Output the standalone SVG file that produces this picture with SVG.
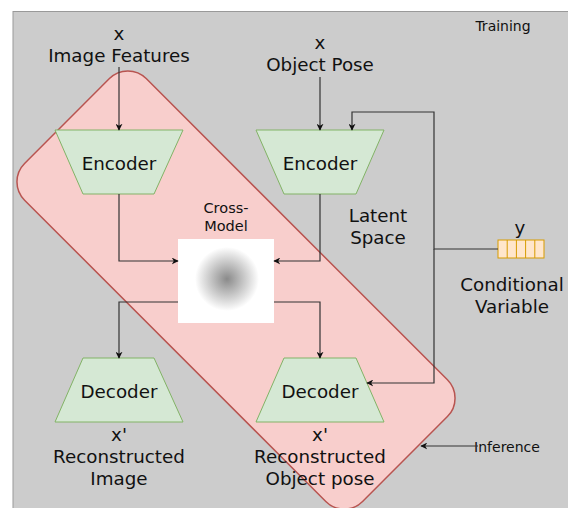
<svg xmlns="http://www.w3.org/2000/svg" width="568" height="508" viewBox="0 0 568 508">
<defs>
<style>
text{font-family:"DejaVu Sans","Liberation Sans",sans-serif;fill:#111;text-anchor:middle}
.l{font-size:18.3px}
.s{font-size:14px}
.m{font-size:14.5px}
.trap{fill:#d5e8d4;stroke:#82b366;stroke-width:1}
.c{fill:none;stroke:#333;stroke-width:1.2}
.a{marker-end:url(#arr)}
</style>
<marker id="arr" viewBox="0 0 10 10" refX="9" refY="5" markerWidth="7" markerHeight="7" markerUnits="userSpaceOnUse" orient="auto">
<path d="M0,0 L10,5 L0,10 L3,5 Z" fill="#111"/>
</marker>
<radialGradient id="rg" cx="0.5" cy="0.5" r="0.5">
<stop offset="0" stop-color="#8a8a8a"/>
<stop offset="1" stop-color="#ffffff"/>
</radialGradient>
</defs>
<rect x="0" y="0" width="568" height="508" fill="#fff"/>
<rect id="panel" x="13" y="11.5" width="560" height="500" fill="#cccccc" stroke="#999" stroke-width="1"/>
<g id="inference-region">
<rect x="-239" y="-86" width="478" height="172" rx="26" transform="translate(236,290) rotate(45)" fill="#f8cecc" stroke="#b85450" stroke-width="1.5"/>
</g>
<text class="s" x="503" y="31">Training</text>
<g id="image-features"><text class="l" x="119" y="40">x</text><text class="l" x="119" y="62">Image Features</text></g>
<g id="object-pose"><text class="l" x="320" y="49">x</text><text class="l" x="320" y="71">Object Pose</text></g>
<g id="encoder1"><path class="trap" d="M55,130 L183,130 L154,194 L83,194 Z"/><text class="l" x="119" y="170">Encoder</text></g>
<g id="encoder2"><path class="trap" d="M256,130 L384,130 L356,194 L284,194 Z"/><text class="l" x="320" y="170">Encoder</text></g>
<g id="latent-space"><text class="l" x="378" y="222">Latent</text><text class="l" x="378" y="244">Space</text></g>
<g id="cross-model">
<text class="m" x="226" y="213">Cross-</text><text class="m" x="226" y="231">Model</text>
<rect x="178" y="239" width="96" height="84" fill="#fff"/>
<circle cx="227" cy="279" r="32" fill="url(#rg)"/>
</g>
<g id="conditional-variable">
<text class="l" x="520" y="234">y</text>
<rect x="498" y="240" width="46" height="18" fill="#ffe6cc" stroke="#d79b00" stroke-width="1"/>
<path d="M507.2,240V258M516.4,240V258M525.6,240V258M534.8,240V258" stroke="#d79b00" stroke-width="1" fill="none"/>
<text class="l" x="512" y="291">Conditional</text><text class="l" x="512" y="313">Variable</text>
</g>
<g id="decoder1"><path class="trap" d="M83,358 L154,358 L183,422 L55,422 Z"/><text class="l" x="119" y="398">Decoder</text>
<text class="l" x="119" y="441">x'</text><text class="l" x="119" y="463">Reconstructed</text><text class="l" x="119" y="485">Image</text></g>
<g id="decoder2"><path class="trap" d="M284,358 L356,358 L384,422 L256,422 Z"/><text class="l" x="320" y="398">Decoder</text>
<text class="l" x="320" y="441">x'</text><text class="l" x="320" y="463">Reconstructed</text><text class="l" x="320" y="485">Object pose</text></g>
<text class="s" x="507" y="452">Inference</text>
<g id="connectors">
<path class="c a" d="M119,67 V130"/>
<path class="c a" d="M320,77 V130"/>
<path class="c a" d="M119,194 V261 H178"/>
<path class="c a" d="M320,194 V261 H274"/>
<path class="c a" d="M178,302 H119 V358"/>
<path class="c a" d="M274,302 H320 V358"/>
<path class="c a" d="M498,249 H434 V112 H352 V130"/>
<path class="c a" d="M434,249 V383 H367"/>
<path class="c a" d="M478,446 H421"/>
</g>
</svg>
